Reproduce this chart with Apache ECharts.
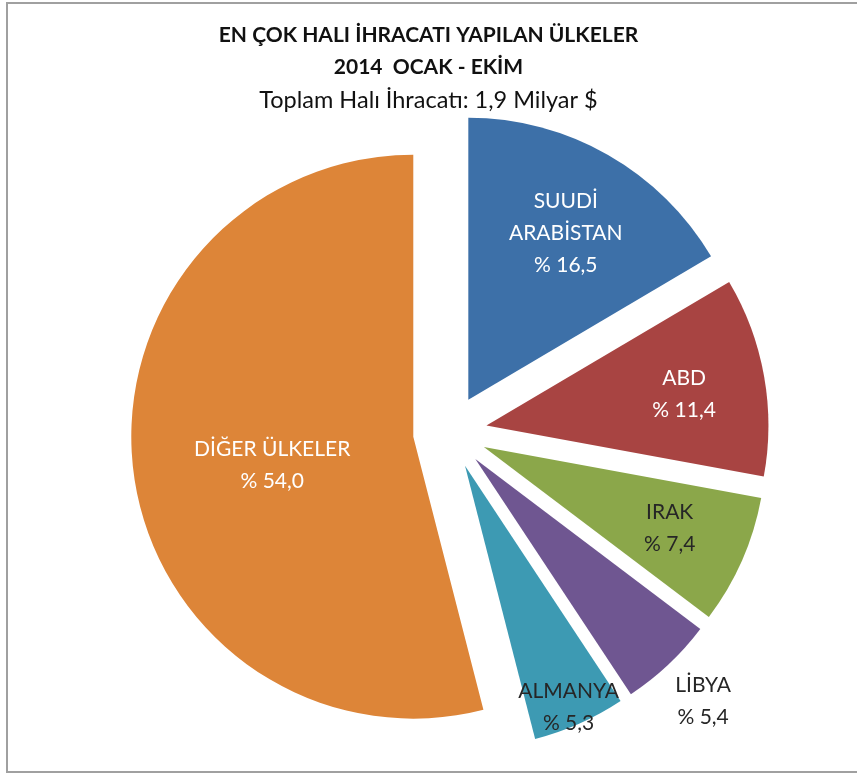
<!DOCTYPE html>
<html>
<head>
<meta charset="utf-8">
<script src="https://cdn.jsdelivr.net/npm/echarts@6/dist/echarts.min.js"></script>
<style>
  html, body { margin: 0; padding: 0; background: #fff; }
  #main { width: 857px; height: 774px; }
</style>
</head>
<body>
<div id="main"></div>
<script>
// data
const countries = ['SUUDİ\nARABİSTAN', 'ABD', 'IRAK', 'LİBYA', 'ALMANYA', 'DİĞER ÜLKELER'];
const shares = [16.5, 11.4, 7.4, 5.4, 5.3, 54.0];

// styling
const colors = ['#3D70A8', '#A84442', '#8BA74A', '#6F5691', '#3D9AB3', '#DD8538'];
const labelColors = ['#fff', '#fff', '#262626', '#262626', '#262626', '#fff'];
const labelDist = [0.685, 0.71, 0.72, 1.18, 0.93, 0.51]; // fraction of radius
const labelTurn = [0.5, 0.8, 0, 0, 0.6, -3.3]; // degrees, small nudge off the mid angle
const cx = 450, cy = 432, R = 282, explode = 37;
const font = 'Lato, "Noto Sans", sans-serif';

// mid angle of each slice (clockwise from 12 o'clock)
const total = shares.reduce((a, b) => a + b, 0);
let acc = 0;
const midAngles = shares.map(function (v) {
  const m = (acc + v / 2) / total * 2 * Math.PI;
  acc += v;
  return m;
});

var chart = echarts.init(document.getElementById('main'));
var option = {
  animation: false,
  title: {
    text: 'EN ÇOK HALI İHRACATI YAPILAN ÜLKELER\n2014  OCAK - EKİM',
    subtext: 'Toplam Halı İhracatı: 1,9 Milyar $',
    left: 'center',
    top: 14,
    itemGap: 5,
    textStyle: { fontFamily: font, fontSize: 21, fontWeight: 'bold', color: '#111', lineHeight: 32 },
    subtextStyle: { fontFamily: font, fontSize: 23.5, color: '#111', lineHeight: 24 }
  },
  graphic: [{
    type: 'rect',
    silent: true,
    shape: { x: 7, y: 3, width: 900, height: 769 },
    style: { fill: 'none', stroke: '#A0A0A0', lineWidth: 2 }
  }],
  series: [{
    // exploded slices
    type: 'pie',
    center: [cx, cy],
    radius: R,
    startAngle: 90,
    clockwise: true,
    selectedMode: 'multiple',
    selectedOffset: explode,
    emphasis: { disabled: true },
    label: { show: false },
    labelLine: { show: false },
    data: countries.map(function (name, i) {
      return { name: name, value: shares[i], selected: true, itemStyle: { color: colors[i] } };
    })
  }, {
    // label carrier (same data, invisible)
    type: 'pie',
    silent: true,
    center: [cx, cy],
    radius: R,
    startAngle: 90,
    clockwise: true,
    z: 3,
    itemStyle: { color: 'rgba(0,0,0,0)' },
    emphasis: { disabled: true },
    labelLine: { show: false },
    label: {
      show: true,
      position: 'inside',
      fontFamily: font,
      fontSize: 21,
      lineHeight: 32,
      formatter: function (p) {
        return p.name + '\n% ' + p.value.toFixed(1).replace('.', ',');
      }
    },
    labelLayout: function (p) {
      const i = p.dataIndex;
      const a = midAngles[i] + labelTurn[i] * Math.PI / 180;
      const d = explode + labelDist[i] * R;
      return {
        x: cx + d * Math.sin(a),
        y: cy - d * Math.cos(a),
        align: 'center',
        verticalAlign: 'middle'
      };
    },
    data: countries.map(function (name, i) {
      return { name: name, value: shares[i], label: { color: labelColors[i] } };
    })
  }]
};
option && chart.setOption(option);
</script>
</body>
</html>
